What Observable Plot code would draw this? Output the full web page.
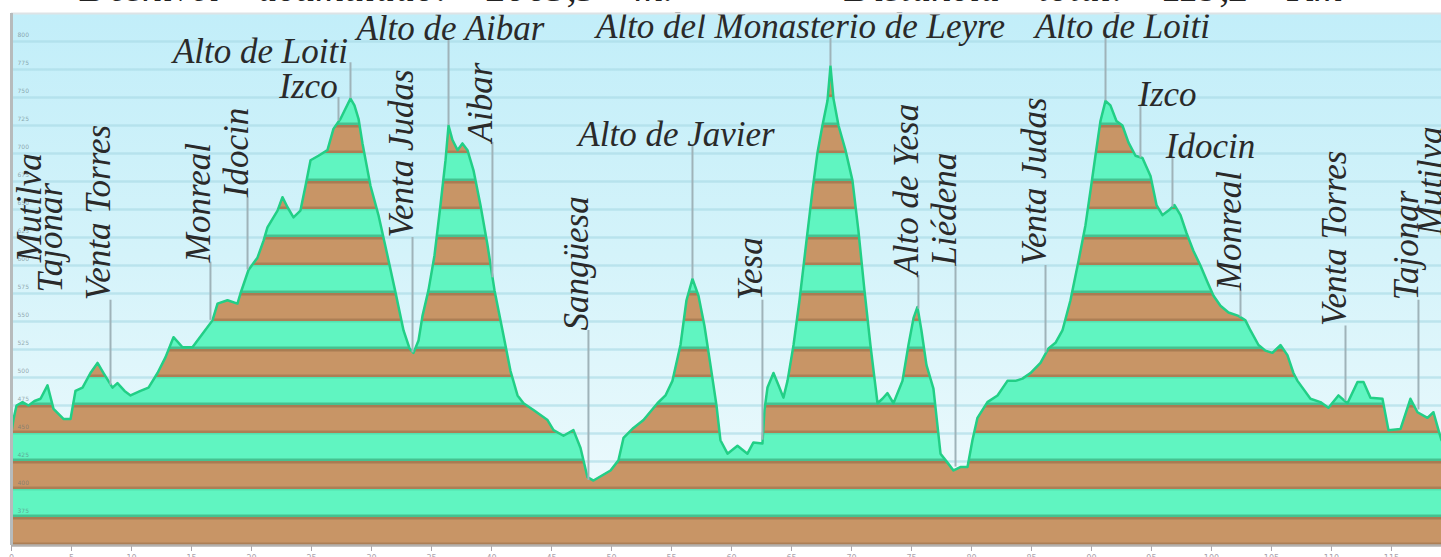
<!DOCTYPE html>
<html>
<head>
<meta charset="utf-8">
<script src="https://cdn.jsdelivr.net/npm/d3@7"></script>
<script src="https://cdn.jsdelivr.net/npm/@observablehq/plot@0.6"></script>
<style>
html, body { margin: 0; padding: 0; background: #fff; overflow: hidden; }
#wrap { position: relative; width: 1441px; height: 557px; overflow: hidden; }
#title { position: absolute; left: 80px; width: 1263px; top: -32px; font: italic 40px/40px "Liberation Serif", serif; color: #222; white-space: nowrap; text-align: justify; text-align-last: justify; z-index: 2; }
#chart { position: absolute; left: 0; top: 0; }
</style>
</head>
<body>
<div id="wrap">
  <div id="title">Desnivel acumulado: 2063,3 m. &nbsp;–&nbsp; Distancia total: 119,2 Km</div>
  <div id="chart"></div>
</div>
<script>
// ---- profile (distance km, elevation m) ----
const profileKm = [0, 0.17, 0.42, 0.92, 1.42, 1.92, 2.42, 3.0, 3.5, 4.33, 4.92, 5.33, 5.92, 6.58, 7.17, 7.67, 8.42, 8.83, 9.42, 9.92,
  10.75, 11.42, 12.17, 12.83, 13.5, 14.25, 15.08, 15.92, 16.75, 17.17, 18.0, 18.83, 19.08, 19.75, 20.5, 21.0, 21.33, 22.17, 22.58, 23.0,
  23.5, 24.08, 24.5, 24.92, 25.58, 26.33, 26.83, 27.42, 27.83, 28.25, 28.58, 28.92, 29.25, 29.92, 30.58, 31.33, 32.0, 32.67, 33.17, 33.5,
  33.92, 34.25, 34.75, 35.25, 35.75, 36.17, 36.42, 36.75, 37.17, 37.58, 38.0, 38.5, 39.08, 39.67, 40.25, 40.92, 41.58, 42.17, 42.67, 43.5,
  44.67, 45.17, 46.0, 46.83, 47.42, 48.0, 48.5, 49.92, 50.58, 51.0, 51.83, 52.67, 53.83, 54.5, 55.08, 55.75, 56.25, 56.75, 57.25, 57.75,
  58.25, 58.75, 59.08, 59.67, 60.5, 61.33, 61.83, 62.58, 62.75, 63.0, 63.5, 63.92, 64.33, 64.67, 65.17, 65.67, 66.25, 66.75, 67.17, 67.58,
  68.0, 68.25, 68.5, 68.92, 69.5, 70.08, 70.58, 71.08, 71.58, 72.17, 72.58, 73.0, 73.5, 74.25, 74.75, 75.17, 75.5, 75.83, 76.25, 76.83,
  77.42, 78.0, 78.5, 79.08, 79.67, 80.08, 80.5, 81.33, 82.17, 83.0, 83.67, 84.25, 84.92, 85.75, 86.42, 87.0, 87.58, 88.25, 88.92, 89.5,
  89.92, 90.33, 90.75, 91.17, 91.58, 92.08, 92.58, 93.08, 93.67, 94.25, 94.92, 95.42, 95.92, 96.42, 96.92, 97.42, 97.92, 98.5, 99.08, 99.67,
  100.17, 100.75, 101.42, 102.25, 102.83, 103.25, 103.92, 104.5, 105.08, 105.75, 106.33, 106.83, 107.17, 108.25, 109.08, 109.75, 110.58, 111.33, 112.17, 112.67,
  113.25, 114.25, 114.75, 115.75, 116.58, 117.17, 118.0, 118.5, 118.92, 119.17];
const profileElev = [451, 463, 475, 478, 475, 479, 481, 493, 472, 463, 463, 488, 491, 504, 513, 504, 491, 495, 488, 484,
  488, 491, 504, 518, 536, 527, 527, 539, 551, 566, 569, 566, 575, 596, 607, 622, 634, 649, 661, 652,
  643, 649, 671, 694, 698, 703, 722, 731, 740, 749, 743, 731, 709, 671, 645, 609, 576, 542, 526, 522,
  533, 555, 578, 609, 654, 694, 725, 712, 703, 709, 703, 685, 654, 618, 578, 542, 506, 484, 477, 471,
  462, 453, 448, 453, 437, 411, 408, 417, 426, 446, 455, 462, 477, 484, 497, 529, 569, 588, 573, 546,
  511, 475, 444, 432, 439, 432, 442, 441, 471, 491, 504, 493, 482, 497, 529, 569, 622, 667, 701, 725,
  747, 778, 749, 725, 703, 676, 631, 578, 529, 477, 481, 486, 477, 497, 529, 553, 563, 542, 511, 490,
  432, 424, 417, 420, 420, 444, 464, 478, 484, 497, 497, 499, 504, 513, 526, 531, 542, 569, 604, 636,
  667, 698, 729, 747, 743, 729, 725, 710, 698, 696, 680, 654, 645, 649, 654, 645, 629, 613, 600, 585,
  573, 564, 558, 555, 551, 542, 529, 524, 522, 529, 520, 504, 497, 481, 478, 473, 484, 477, 496, 496,
  482, 481, 453, 454, 481, 469, 464, 469, 453, 444];

// ---- place labels ----
const labelNames = ["Mutilva", "Tajonar", "Venta Torres", "Monreal", "Idocin", "Alto de Loiti", "Izco", "Venta Judas",
  "Alto de Aibar", "Aibar", "Sangüesa", "Alto de Javier", "Yesa", "Alto del Monasterio de Leyre", "Alto de Yesa", "Liédena",
  "Venta Judas", "Alto de Loiti", "Izco", "Idocin", "Monreal", "Venta Torres", "Tajonar", "Mutilva"];
const labelOrient = ["v", "v", "v", "v", "v", "h", "h", "v", "h", "v", "v", "h", "v", "h", "v", "v", "v", "h", "h", "h", "v", "v", "v", "v"];
const labelKm = [2.42, 4.25, 8.25, 16.58, 19.67, 28.25, 27.25, 33.42, 36.42, 40.08, 48.08, 56.75, 62.58, 68.25, 75.58, 78.67,
  86.17, 91.17, 94.08, 96.75, 102.42, 111.17, 117.25, 119.17];
const labelBase = [603, 576, 493, 551, 596, 749, 729, 522, 725, 589, 408, 588, 444, 778, 561, 420, 522, 747, 696, 652, 554, 479, 471, 627];
const labelTop = [603, 576, 569, 603, 661, 781, 750, 625, 801, 710, 542, 707, 569, 803, 591, 600, 600, 803, 742, 696, 578, 546, 569, 627];
const labelTextKm = [2.42, 4.25, 8.25, 16.58, 19.67, 20.75, 24.75, 33.42, 36.58, 40.08, 48.08, 55.42, 62.58, 65.75, 75.58, 78.67,
  86.17, 92.58, 96.33, 99.92, 102.42, 111.17, 117.25, 119.17];

// ---- axes ----
const xTicks = [0, 5, 10, 15, 20, 25, 30, 35, 40, 45, 50, 55, 60, 65, 70, 75, 80, 85, 90, 95, 100, 105, 110, 115];
const yTicks = [375, 400, 425, 450, 475, 500, 525, 550, 575, 600, 625, 650, 675, 700, 725, 750, 775, 800];
const xDomain = [0, 119.17];
const yDomain = [350, 825];

const profile = profileKm.map((k, i) => ({km: k, elev: profileElev[i]}));
const labels = labelNames.map((n, i) => ({name: n, orient: labelOrient[i], km: labelKm[i], base: labelBase[i], top: labelTop[i], textKm: labelTextKm[i]}));
const hLabels = labels.filter(d => d.orient === "h");
const vLabels = labels.filter(d => d.orient === "v");

const FONT = "Liberation Serif";
const W = 1441;

const plot = Plot.plot({
  width: W,
  height: 575,
  marginLeft: 11,
  marginRight: 0,
  marginTop: 13,
  marginBottom: 30,
  style: {background: "#fff", color: "#a9a3ab", fontSize: "8px", fontFamily: "DejaVu Sans"},
  x: {domain: xDomain, ticks: xTicks, tickSize: 6, tickPadding: 4, label: null, axis: "bottom"},
  y: {domain: yDomain, axis: null},
  marks: [
    Plot.frame({fill: "url(#skyGrad)"}),
    Plot.ruleY(yTicks, {stroke: "#a6d8e4", strokeOpacity: 0.6, strokeWidth: 2.5}),
    Plot.areaY(profile, {x: "km", y1: yDomain[0], y2: "elev", fill: "url(#groundBands)"}),
    Plot.line(profile, {x: "km", y: "elev", stroke: "#22cf86", strokeWidth: 2.5}),
    Plot.ruleX(labels, {x: "km", y1: "base", y2: "top", stroke: "#9fb3b9", strokeWidth: 2}),
    Plot.text(yTicks, {x: xDomain[0], y: d => d, text: d => String(d), textAnchor: "start", dx: 6, dy: -6,
      fontSize: 6, fill: "#5d7077", fillOpacity: 0.6}),
    Plot.text(hLabels, {x: "textKm", y: "top", text: "name", textAnchor: "middle", lineAnchor: "bottom",
      fontSize: 35, fontStyle: "italic", fontFamily: FONT, fill: "#2a2a2a"}),
    Plot.text(vLabels, {x: "km", y: "top", text: "name", rotate: -90, textAnchor: "start", lineAnchor: "bottom",
      fontSize: 35, fontStyle: "italic", fontFamily: FONT, fill: "#2a2a2a"}),
    Plot.ruleY([yDomain[1]], {stroke: "#dde3e6", strokeWidth: 2}),
    Plot.ruleY([yDomain[0]], {stroke: "#b4b1ae", strokeWidth: 2.5}),
    Plot.ruleX([xDomain[0]], {stroke: "#b7bbbc", strokeWidth: 3})
  ]
});

// gradient + band pattern derived from the y scale
const ys = plot.scale("y");
const yb = ys.apply(yDomain[0]);
const bh = Math.abs(ys.apply(yTicks[0]) - ys.apply(yTicks[1]));
const defs = d3.create("svg:defs");
const g = defs.append("linearGradient").attr("id", "skyGrad").attr("x1", 0).attr("y1", 0).attr("x2", 0).attr("y2", 1);
g.append("stop").attr("offset", "0%").attr("stop-color", "#c2eef9");
g.append("stop").attr("offset", "45%").attr("stop-color", "#d4f3fa");
g.append("stop").attr("offset", "100%").attr("stop-color", "#f1fbfd");
const p = defs.append("pattern").attr("id", "groundBands").attr("patternUnits", "userSpaceOnUse")
  .attr("x", 0).attr("y", yb).attr("width", W).attr("height", 2 * bh);
// green band (upper half of tile)
p.append("rect").attr("x", 0).attr("y", 0).attr("width", W).attr("height", bh).attr("fill", "#60f5c1");
p.append("rect").attr("x", 0).attr("y", 0).attr("width", W).attr("height", 1.5).attr("fill", "#52e2b0");
p.append("rect").attr("x", 0).attr("y", bh - 2.5).attr("width", W).attr("height", 2.5).attr("fill", "#45c190");
// brown band (lower half of tile)
p.append("rect").attr("x", 0).attr("y", bh).attr("width", W).attr("height", bh).attr("fill", "#c89566");
p.append("rect").attr("x", 0).attr("y", bh).attr("width", W).attr("height", 2.5).attr("fill", "#a97c52");
p.append("rect").attr("x", 0).attr("y", 2 * bh - 2.5).attr("width", W).attr("height", 2.5).attr("fill", "#ad7f55");
plot.insertBefore(defs.node(), plot.firstChild);

document.getElementById("chart").appendChild(plot);
</script>
</body>
</html>
